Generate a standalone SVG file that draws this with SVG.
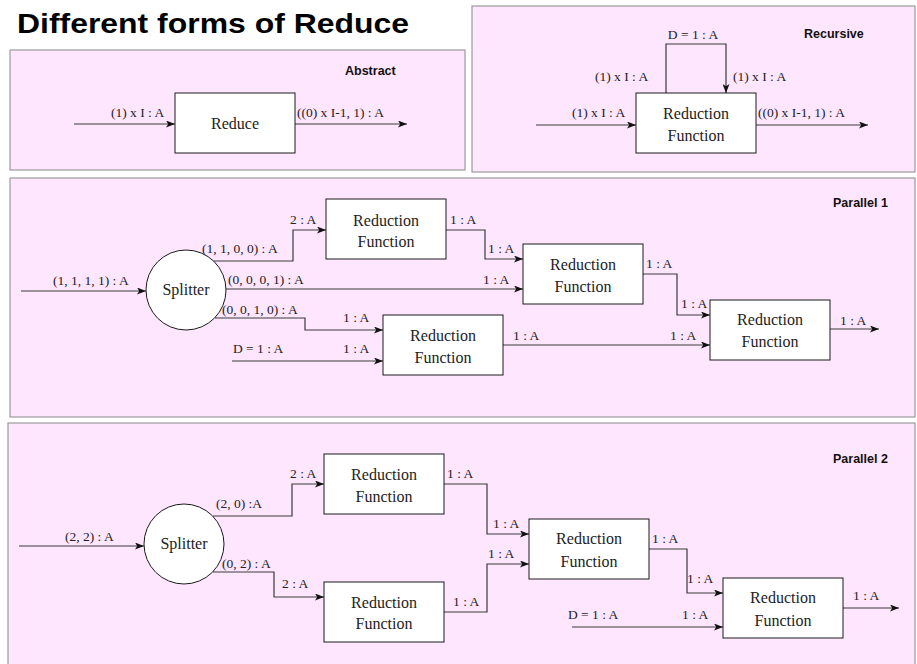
<svg xmlns="http://www.w3.org/2000/svg" width="917" height="664" viewBox="0 0 917 664">
<style>
.panel{fill:#FFE6FF;stroke:#9a9a9a;stroke-width:1.2}
.box{fill:#ffffff;stroke:#1a1a1a;stroke-width:1}
.cn{fill:none;stroke:#3a3a3a;stroke-width:1.2;marker-end:url(#ah)}
.lb{font-family:"Liberation Serif","Times New Roman",serif;font-size:13.5px;fill:#222}
.nt{font-family:"Liberation Serif","Times New Roman",serif;font-size:16px;fill:#222;text-anchor:middle}
.pt{font-family:"Liberation Sans",Arial,Helvetica,sans-serif;font-size:12.5px;font-weight:bold;fill:#111}
</style>
<defs>
<marker id="ah" viewBox="0 0 9 7" refX="9" refY="3.5" markerWidth="9" markerHeight="7" markerUnits="userSpaceOnUse" orient="auto">
<path d="M0,0 L9,3.5 L0,7 L2.2,3.5 z" fill="#111"/>
</marker>
</defs>
<rect width="917" height="664" fill="#ffffff"/>
<text x="17" y="33" font-family="'Liberation Sans',Arial,Helvetica,sans-serif" font-size="28" font-weight="bold" fill="#000" textLength="392" lengthAdjust="spacingAndGlyphs">Different forms of Reduce</text>

<g id="panel-abstract">
<rect class="panel" x="10" y="50" width="455" height="120"/>
<text class="pt" x="345" y="75">Abstract</text>
</g>
<g id="panel-recursive">
<rect class="panel" x="472" y="6" width="443" height="166"/>
<text class="pt" x="804" y="38">Recursive</text>
</g>
<g id="panel-parallel1">
<rect class="panel" x="10" y="178" width="905" height="239"/>
<text class="pt" x="833" y="207">Parallel 1</text>
</g>
<g id="panel-parallel2">
<rect class="panel" x="8" y="423" width="907" height="250"/>
<text class="pt" x="833" y="463">Parallel 2</text>
</g>

<g id="connectors">
<!-- Abstract -->
<path class="cn" d="M74,124 H175"/>
<text class="lb" x="111" y="117">(1) x I : A</text>
<path class="cn" d="M295,124 H407"/>
<text class="lb" x="297" y="117">((0) x I-1, 1) : A</text>
<!-- Recursive -->
<path class="cn" d="M536,125 H636"/>
<text class="lb" x="572" y="117">(1) x I : A</text>
<path class="cn" d="M756,125 H868"/>
<text class="lb" x="758" y="117">((0) x I-1, 1) : A</text>
<path class="cn" d="M666,93 V44 H726 V93"/>
<text class="lb" x="693" y="39" text-anchor="middle">D = 1 : A</text>
<text class="lb" x="595" y="81">(1) x I : A</text>
<text class="lb" x="733" y="81">(1) x I : A</text>
<!-- Parallel 1 -->
<path class="cn" d="M21,291 H146"/>
<text class="lb" x="53" y="285">(1, 1, 1, 1) : A</text>
<path class="cn" d="M214,261 H293 V230 H326"/>
<text class="lb" x="202" y="253">(1, 1, 0, 0) : A</text>
<text class="lb" x="290" y="224">2 : A</text>
<path class="cn" d="M226,289 H523"/>
<text class="lb" x="228" y="284">(0, 0, 0, 1) : A</text>
<text class="lb" x="483" y="284">1 : A</text>
<path class="cn" d="M215,318 H305 V330 H383"/>
<text class="lb" x="222" y="314">(0, 0, 1, 0) : A</text>
<text class="lb" x="343" y="322">1 : A</text>
<path class="cn" d="M232,361 H383"/>
<text class="lb" x="233" y="353">D = 1 : A</text>
<text class="lb" x="343" y="353">1 : A</text>
<path class="cn" d="M446,230 H485 V259 H523"/>
<text class="lb" x="450" y="224">1 : A</text>
<text class="lb" x="488" y="253">1 : A</text>
<path class="cn" d="M503,345 H710"/>
<text class="lb" x="513" y="340">1 : A</text>
<text class="lb" x="670" y="340">1 : A</text>
<path class="cn" d="M643,274 H677 V315 H710"/>
<text class="lb" x="646" y="268">1 : A</text>
<text class="lb" x="681" y="308">1 : A</text>
<path class="cn" d="M830,329 H879"/>
<text class="lb" x="840" y="325">1 : A</text>
<!-- Parallel 2 -->
<path class="cn" d="M19,546 H144"/>
<text class="lb" x="65" y="541">(2, 2) : A</text>
<path class="cn" d="M213,516 H292 V484 H324"/>
<text class="lb" x="216" y="508">(2, 0) :A</text>
<text class="lb" x="290" y="478">2 : A</text>
<path class="cn" d="M213,572 H274 V597 H324"/>
<text class="lb" x="222" y="568">(0, 2) : A</text>
<text class="lb" x="282" y="588">2 : A</text>
<path class="cn" d="M444,484 H487 V534 H529"/>
<text class="lb" x="447" y="478">1 : A</text>
<text class="lb" x="493" y="528">1 : A</text>
<path class="cn" d="M444,612 H487 V564 H529"/>
<text class="lb" x="453" y="606">1 : A</text>
<text class="lb" x="488" y="558">1 : A</text>
<path class="cn" d="M649,549 H687 V593 H723"/>
<text class="lb" x="652" y="543">1 : A</text>
<text class="lb" x="687" y="583">1 : A</text>
<path class="cn" d="M572,627 H723"/>
<text class="lb" x="568" y="619">D = 1 : A</text>
<text class="lb" x="682" y="619">1 : A</text>
<path class="cn" d="M843,608 H899"/>
<text class="lb" x="853" y="600">1 : A</text>
</g>

<g id="node-reduce">
<rect class="box" x="175" y="93" width="120" height="60"/>
<text class="nt" x="235" y="129">Reduce</text>
</g>
<g id="node-recursive-rf">
<rect class="box" x="636" y="93" width="120" height="60"/>
<text class="nt" x="696" y="119">Reduction</text>
<text class="nt" x="696" y="141">Function</text>
</g>

<g id="node-p1-splitter">
<circle cx="186" cy="290" r="40" fill="#ffffff" stroke="#1a1a1a" stroke-width="1"/>
<text class="nt" x="186" y="295">Splitter</text>
</g>
<g id="node-p1-rf1">
<rect class="box" x="326" y="199" width="120" height="60"/>
<text class="nt" x="386" y="226">Reduction</text>
<text class="nt" x="386" y="247">Function</text>
</g>
<g id="node-p1-rf2">
<rect class="box" x="523" y="244" width="120" height="60"/>
<text class="nt" x="583" y="270">Reduction</text>
<text class="nt" x="583" y="292">Function</text>
</g>
<g id="node-p1-rf3">
<rect class="box" x="383" y="315" width="120" height="60"/>
<text class="nt" x="443" y="341">Reduction</text>
<text class="nt" x="443" y="363">Function</text>
</g>
<g id="node-p1-rf4">
<rect class="box" x="710" y="300" width="120" height="60"/>
<text class="nt" x="770" y="325">Reduction</text>
<text class="nt" x="770" y="347">Function</text>
</g>

<g id="node-p2-splitter">
<circle cx="184" cy="544" r="40" fill="#ffffff" stroke="#1a1a1a" stroke-width="1"/>
<text class="nt" x="184" y="549">Splitter</text>
</g>
<g id="node-p2-rf1">
<rect class="box" x="324" y="454" width="120" height="60"/>
<text class="nt" x="384" y="480">Reduction</text>
<text class="nt" x="384" y="502">Function</text>
</g>
<g id="node-p2-rf2">
<rect class="box" x="324" y="582" width="120" height="60"/>
<text class="nt" x="384" y="608">Reduction</text>
<text class="nt" x="384" y="629">Function</text>
</g>
<g id="node-p2-rf3">
<rect class="box" x="529" y="519" width="120" height="60"/>
<text class="nt" x="589" y="544">Reduction</text>
<text class="nt" x="589" y="567">Function</text>
</g>
<g id="node-p2-rf4">
<rect class="box" x="723" y="578" width="120" height="60"/>
<text class="nt" x="783" y="603">Reduction</text>
<text class="nt" x="783" y="626">Function</text>
</g>
</svg>
